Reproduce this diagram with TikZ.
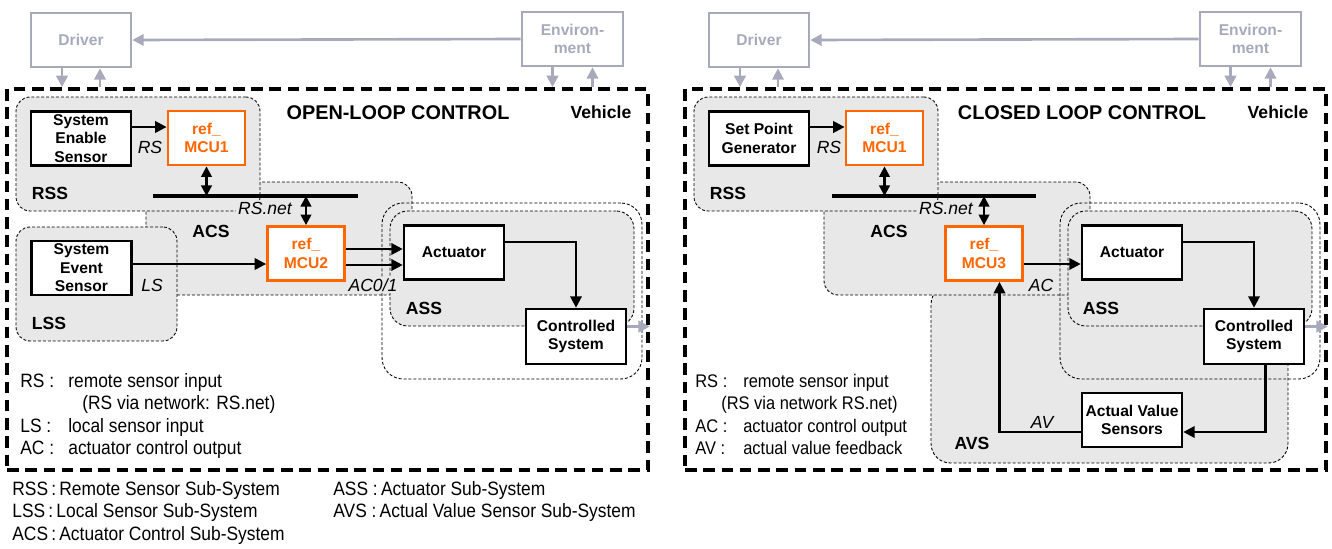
\documentclass[tikz,border=0pt]{standalone}
\usepackage{fontspec}
\setmainfont{Liberation Sans}
\newfontfamily\narrowfont[FakeStretch=0.9]{Liberation Sans}
\usepackage{xcolor}
\usepackage{tikz}
\usetikzlibrary{positioning}
\usetikzlibrary{arrows.meta, calc}

\definecolor{envgray}{RGB}{168,170,188}
\definecolor{mcuorange}{RGB}{255,102,0}
\definecolor{subgray}{RGB}{232,232,232}

\tikzset{
    sysbox/.style={draw, line width=1.5pt, fill=white, align=center, inner sep=0pt,
        minimum width=2cm, minimum height=1.08cm,
        font=\fontsize{8.9}{10.5}\selectfont\bfseries},
    mcubox/.style={sysbox, draw=mcuorange, text=mcuorange, line width=1.6pt, minimum width=1.54cm},
    envbox/.style={sysbox, draw=envgray, text=envgray},
    region/.style={draw, fill=subgray, line width=0.5pt, dash pattern=on 1.7pt off 1.1pt,
        rounded corners=8pt, inner sep=0pt},
    regionline/.style={region, fill=none},
    vehframe/.style={draw, line width=2.2pt, dash pattern=on 6.6pt off 3.8pt, inner sep=0pt},
    flow/.style={line width=1.3pt, -{Triangle[length=6.5pt,width=6.5pt]}},
    dflow/.style={line width=1.3pt, {Triangle[length=6pt,width=6pt]}-{Triangle[length=6pt,width=6pt]}},
    envflow/.style={flow, line width=1.5pt, color=envgray},
    busline/.style={line width=2pt},
    sublabel/.style={font=\fontsize{10}{12}\selectfont\bfseries, inner sep=0pt},
    siglabel/.style={font=\fontsize{10}{12}\selectfont\itshape, fill=subgray, inner sep=1pt},
    headline/.style={font=\fontsize{11.3}{13}\selectfont\bfseries, inner sep=0pt},
    legend/.style={font=\narrowfont\fontsize{11}{12.6}\selectfont, inner sep=0pt, anchor=north west},
}

\begin{document}
\begin{tikzpicture}[x=0.02cm, y=-0.02cm]
    \useasboundingbox (0,0) rectangle (1332,548);

    % open loop
    \begin{scope}
        \node[envbox] (drvL) at (81,40) {Driver};
        \node[envbox, minimum width=2.02cm] (envL) at (572.5,39) {Environ-\\ment};
        \node[vehframe, minimum width=12.82cm, minimum height=7.62cm] (vehL) at (327.5,279.5) {};

        \node[region, minimum width=5.32cm, minimum height=2.26cm] (acsL) at (279,238.5) {};
        \node[region, minimum width=4.88cm, minimum height=2.28cm] (rssL) at (138,154) {};
        \node[region, minimum width=3.22cm, minimum height=2.28cm] (lssL) at (96.5,284) {};
        \node[region, rounded corners=10pt, minimum width=4.88cm, minimum height=2.30cm] (assL) at (512,268.5) {};
        \node[regionline, rounded corners=12pt, minimum width=5.2cm, minimum height=3.52cm] (assoutL) at (512,291) {};

        \node[headline] (titleL) at (398,113) {OPEN-LOOP CONTROL};
        \node[sublabel] (vehlabL) at (601,112) {Vehicle};
        \node[sublabel] (rsslabL) at (50,193) {RSS};
        \node[sublabel] (acslabL) at (211,231) {ACS};
        \node[sublabel] (lsslabL) at (49,323) {LSS};
        \node[sublabel] (asslabL) at (424,308) {ASS};

        \node[sysbox] (sesL) at (81,138.5) {System\\Enable\\Sensor};
        \node[mcubox] (mcu1L) at (206.5,138) {ref\_\\MCU1};
        \node[sysbox] (sevL) at (81.5,268) {System\\Event\\Sensor};
        \node[mcubox] (mcu2L) at (306,253.5) {ref\_\\MCU2};
        \node[sysbox] (actL) at (454,252.5) {Actuator};
        \node[sysbox, minimum height=1.1cm] (csL) at (576,336.5) {Controlled\\System};

        \coordinate (busLw) at (153,196);
        \coordinate (busLe) at (358,196);
        \draw[busline] (busLw) -- (busLe);

        \draw[envflow] (envL.west) -- (drvL.east);
        \draw[envflow] ([xshift=-0.38cm]drvL.south) -- ([xshift=-0.38cm]drvL.south |- vehL.north);
        \draw[envflow] ([xshift=0.38cm]drvL.south |- vehL.north) -- ([xshift=0.38cm]drvL.south);
        \draw[envflow] ([xshift=-0.4cm]envL.south) -- ([xshift=-0.4cm]envL.south |- vehL.north);
        \draw[envflow] ([xshift=0.4cm]envL.south |- vehL.north) -- ([xshift=0.4cm]envL.south);

        \draw[flow] ([yshift=0.23cm]sesL.east) -- ([yshift=0.23cm]sesL.east -| mcu1L.west);
        \draw[dflow] (mcu1L.south) -- (mcu1L.south |- busLw);
        \draw[dflow] (mcu2L.north |- busLw) -- (mcu2L.north);
        \draw[flow] ([yshift=0.08cm]sevL.east) -- ([yshift=0.08cm]sevL.east -| mcu2L.west);
        \draw[flow] ([yshift=0.09cm]mcu2L.east) -- ([yshift=0.09cm]mcu2L.east -| actL.west);
        \draw[flow] ([yshift=-0.23cm]mcu2L.east) -- ([yshift=-0.23cm]mcu2L.east -| actL.west);
        \draw[flow] ([yshift=0.21cm]actL.east) -| (csL.north);
        \draw[envflow] ([yshift=0.2cm]csL.east) -- ([yshift=0.2cm]csL.east -| vehL.east);

        \node[siglabel] (rsL) at (150,147) {RS};
        \node[siglabel] (rsnetL) at (265,208) {RS.net};
        \node[siglabel] (lsL) at (152,285) {LS};
        \node[siglabel] (acL) at (373,285) {AC0/1};

        \node[legend] (legL) at (20,372) {
            \begin{tabular}{@{}p{0.96cm}@{}l@{}}
                RS : & remote sensor input \\
                     & \hspace{0.28cm}(RS via network: RS.net) \\
                LS : & local sensor input \\
                AC : & actuator control output \\
            \end{tabular}
        };
    \end{scope}

    % closed loop
    \begin{scope}[shift={(678,0)}]
        \node[envbox] (drvR) at (81,40) {Driver};
        \node[envbox, minimum width=2.02cm] (envR) at (572.5,39) {Environ-\\ment};
        \node[vehframe, minimum width=12.82cm, minimum height=7.62cm] (vehR) at (327.5,279.5) {};

        \node[region, rounded corners=11pt, minimum width=7.14cm, minimum height=3.56cm] (avsR) at (431.5,374) {};
        \node[region, minimum width=5.32cm, minimum height=2.26cm] (acsR) at (279,238.5) {};
        \node[region, minimum width=4.88cm, minimum height=2.28cm] (rssR) at (138,154) {};
        \node[region, rounded corners=10pt, minimum width=4.88cm, minimum height=2.30cm] (assR) at (512,268.5) {};
        \node[regionline, rounded corners=12pt, minimum width=5.2cm, minimum height=3.52cm] (assoutR) at (512,291) {};

        \node[headline] (titleR) at (404,113) {CLOSED LOOP CONTROL};
        \node[sublabel] (vehlabR) at (600,112) {Vehicle};
        \node[sublabel] (rsslabR) at (50,193) {RSS};
        \node[sublabel] (acslabR) at (211,231) {ACS};
        \node[sublabel] (asslabR) at (423,308) {ASS};
        \node[sublabel] (avslabR) at (294,443) {AVS};

        \node[sysbox] (spgR) at (81,138.5) {Set Point\\Generator};
        \node[mcubox] (mcu1R) at (206.5,138) {ref\_\\MCU1};
        \node[mcubox] (mcu3R) at (306,253.5) {ref\_\\MCU3};
        \node[sysbox] (actR) at (454,252.5) {Actuator};
        \node[sysbox, minimum height=1.1cm] (csR) at (576,336.5) {Controlled\\System};
        \node[sysbox] (avsbR) at (454,420) {Actual Value\\Sensors};

        \coordinate (busRw) at (154,196);
        \coordinate (busRe) at (358,196);
        \draw[busline] (busRw) -- (busRe);

        \draw[envflow] (envR.west) -- (drvR.east);
        \draw[envflow] ([xshift=-0.38cm]drvR.south) -- ([xshift=-0.38cm]drvR.south |- vehR.north);
        \draw[envflow] ([xshift=0.38cm]drvR.south |- vehR.north) -- ([xshift=0.38cm]drvR.south);
        \draw[envflow] ([xshift=-0.4cm]envR.south) -- ([xshift=-0.4cm]envR.south |- vehR.north);
        \draw[envflow] ([xshift=0.4cm]envR.south |- vehR.north) -- ([xshift=0.4cm]envR.south);

        \draw[flow] ([yshift=0.23cm]spgR.east) -- ([yshift=0.23cm]spgR.east -| mcu1R.west);
        \draw[dflow] (mcu1R.south) -- (mcu1R.south |- busRw);
        \draw[dflow] (mcu3R.north |- busRw) -- (mcu3R.north);
        \draw[flow] ([yshift=-0.21cm]mcu3R.east) -- ([yshift=-0.21cm]mcu3R.east -| actR.west);
        \draw[flow] ([yshift=0.21cm]actR.east) -| (csR.north);
        \draw[envflow] ([yshift=0.2cm]csR.east) -- ([yshift=0.2cm]csR.east -| vehR.east);
        \draw[flow] ([xshift=0.23cm]csR.south) |- ([yshift=-0.24cm]avsbR.east);
        \draw[flow] ([yshift=-0.24cm]avsbR.west) -| ([xshift=0.31cm]mcu3R.south);

        \node[siglabel] (rsR) at (151,147) {RS};
        \node[siglabel] (rsnetR) at (268,208) {RS.net};
        \node[siglabel] (acR) at (363,285) {AC};
        \node[siglabel] (avR) at (364,422) {AV};

        \node[legend, font=\narrowfont\fontsize{10.4}{12.6}\selectfont] (legR) at (17,372) {
            \begin{tabular}{@{}p{0.96cm}@{}l@{}}
                RS : & remote sensor input \\
                \multicolumn{2}{@{}l@{}}{\hspace{0.52cm}(RS via network RS.net)} \\
                AC : & actuator control output \\
                AV : & actual value feedback \\
            \end{tabular}
        };
    \end{scope}

    % abbreviations
    \node[legend] (abbrL) at (12,480) {
        \begin{tabular}{@{}l@{}}
            RSS\,:\,Remote Sensor Sub-System \\
            LSS\,:\,Local Sensor Sub-System \\
            ACS\,:\,Actuator Control Sub-System \\
        \end{tabular}
    };
    \node[legend] (abbrR) at (333,480) {
        \begin{tabular}{@{}l@{}}
            ASS\ :\,Actuator Sub-System \\
            AVS\ :\,Actual Value Sensor Sub-System \\
        \end{tabular}
    };
\end{tikzpicture}
\end{document}
